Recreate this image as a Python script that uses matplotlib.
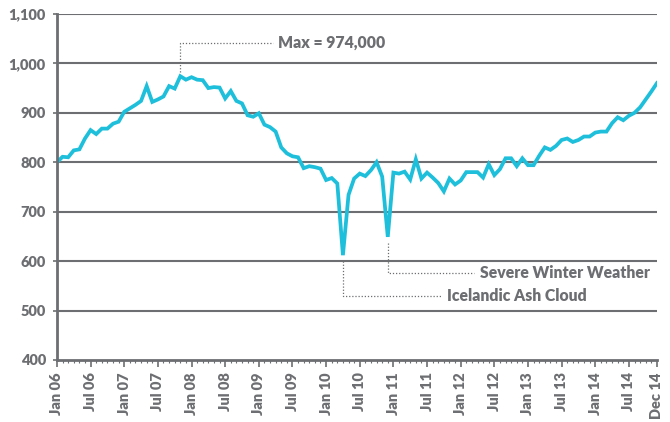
import matplotlib.pyplot as plt
import numpy as np

# monthly passengers (thousands), Jan 06 .. Dec 14
values = [800, 811, 810, 824, 826, 848, 865, 857, 868, 868, 878, 882,
          902, 909, 916, 924, 954, 922, 927, 933, 954, 949, 974, 967,
          972, 967, 966, 950, 952, 951, 929, 944, 924, 919, 895, 892,
          899, 876, 871, 862, 830, 818, 812, 810, 788, 792, 790, 787,
          764, 768, 757, 612, 734, 767, 777, 772, 784, 800, 771, 649,
          779, 777, 781, 765, 806, 767, 779, 769, 758, 741, 767, 755,
          763, 780, 780, 780, 769, 796, 774, 786, 808, 808, 792, 808,
          794, 794, 813, 830, 825, 833, 845, 848, 841, 845, 852, 852,
          860, 862, 862, 879, 891, 885, 894, 900, 911, 927, 943, 960]
tick_labels = ['Jan 06', 'Jul 06', 'Jan 07', 'Jul 07', 'Jan 08', 'Jul 08',
               'Jan 09', 'Jul 09', 'Jan 10', 'Jul 10', 'Jan 11', 'Jul 11',
               'Jan 12', 'Jul 12', 'Jan 13', 'Jul 13', 'Jan 14', 'Jul 14',
               'Dec 14']
y_ticks = [400, 500, 600, 700, 800, 900, 1000, 1100]
ash_month = 51
winter_month = 59

gray = '#6d6e71'
cyan = '#1ebfdb'
plt.rcParams['font.family'] = ['Lato', 'DejaVu Sans']

months = np.arange(len(values))
fig = plt.figure(figsize=(6.7, 4.22), dpi=100)
ax = fig.add_axes([0.085, 0.147, 0.8955, 0.82])

for v in y_ticks[1:]:
    ax.axhline(v, color=gray, lw=1.5, zorder=1)

ax.plot(months, values, color=cyan, lw=2.7, zorder=3, solid_joinstyle='miter')

ax.set_xlim(0, len(values) - 1)
ax.set_ylim(400, 1100)
tick_pos = list(range(0, len(values) - 1, 6)) + [len(values) - 1]
ax.set_xticks(tick_pos)
ax.set_xticklabels(tick_labels, rotation=90, fontsize=10.5, fontweight='heavy', color=gray)
ax.set_xticks(months, minor=True)
ax.set_yticks(y_ticks)
ax.set_yticklabels([f'{v:,}' for v in y_ticks], fontsize=10.5, fontweight='heavy', color=gray)
ax.tick_params(axis='x', which='major', length=5, width=1.2, color=gray, pad=4)
ax.tick_params(axis='x', which='minor', length=2.5, width=0.8, color=gray)
ax.tick_params(axis='y', length=3, width=1.2, color=gray, pad=5)

for s in ['top', 'right']:
    ax.spines[s].set_visible(False)
for s in ['left', 'bottom']:
    ax.spines[s].set_color(gray)
    ax.spines[s].set_linewidth(2)
    ax.spines[s].set_zorder(4)

# annotations
dot = dict(color=gray, lw=0.9, ls=(0, (1, 1.5)), zorder=2)
imax = int(np.argmax(values))
ax.plot([imax, imax, 38.5], [983, 1042, 1042], **dot)
ax.text(39.4, 1042, 'Max = 974,000', va='center', ha='left', fontsize=11.3,
        fontweight='heavy', color=gray)

ax.plot([ash_month, ash_month, 68.5], [600, 529, 529], **dot)
ax.text(69.6, 529, 'Icelandic Ash Cloud', va='center', ha='left', fontsize=11.3,
        fontweight='heavy', color=gray)

ax.plot([winter_month, winter_month, 74.4], [636, 576, 576], **dot)
ax.text(75.4, 576, 'Severe Winter Weather', va='center', ha='left', fontsize=11.3,
        fontweight='heavy', color=gray)

fig.savefig('out.png', dpi=100)
